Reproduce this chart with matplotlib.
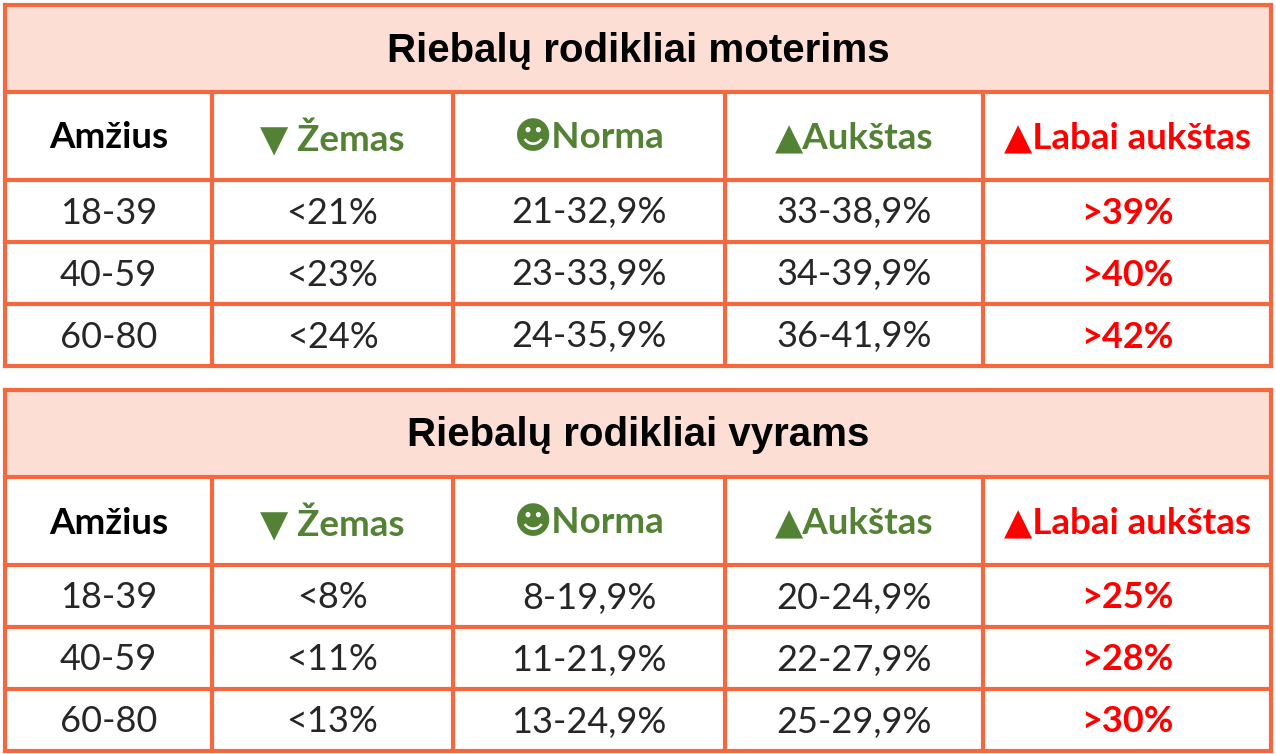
import matplotlib
matplotlib.use("Agg")
import matplotlib.pyplot as plt
from matplotlib.patches import Rectangle

titles = ["Riebalų rodikliai moterims", "Riebalų rodikliai vyrams"]
headers = ["Amžius", "▼ Žemas", "☻Norma", "▲Aukštas", "▲Labai aukštas"]
ages = ["18-39", "40-59", "60-80"]
women_low = ["<21%", "<23%", "<24%"]
women_norm = ["21-32,9%", "23-33,9%", "24-35,9%"]
women_high = ["33-38,9%", "34-39,9%", "36-41,9%"]
women_vhigh = [">39%", ">40%", ">42%"]
men_low = ["<8%", "<11%", "<13%"]
men_norm = ["8-19,9%", "11-21,9%", "13-24,9%"]
men_high = ["20-24,9%", "22-27,9%", "25-29,9%"]
men_vhigh = [">25%", ">28%", ">30%"]

BORDER = "#F4683F"
FILL = "#FDDED5"
GREEN = "#548235"
RED = "#FF0000"
DARK = "#262626"

fig = plt.figure(figsize=(12.76, 7.54), dpi=100)
ax = fig.add_axes([0, 0, 1, 1])
ax.set_xlim(0, 1276); ax.set_ylim(754, 0); ax.axis("off")

cols = [5, 212, 453, 725, 983, 1271]
FB = ["Lato", "DejaVu Sans"]
hcolors = ["black", GREEN, GREEN, GREEN, RED]

def table(top, title, data):
    ys = [top, top + 87, top + 175, top + 237, top + 299, top + 361]
    ax.add_patch(Rectangle((cols[0], ys[0]), cols[-1] - cols[0], ys[1] - ys[0], facecolor=FILL, edgecolor="none"))
    ax.text((cols[0] + cols[-1]) / 2, (ys[0] + ys[1]) / 2 + 2, title, ha="center", va="center",
            fontsize=29, fontweight="bold", family=["Liberation Sans"], color="black")
    for y in ys:
        ax.plot([cols[0], cols[-1]], [y, y], color=BORDER, lw=3, solid_capstyle="projecting")
    for x in cols:
        y0 = ys[0] if x in (cols[0], cols[-1]) else ys[1]
        ax.plot([x, x], [y0, ys[-1]], color=BORDER, lw=3, solid_capstyle="projecting")
    for j, h in enumerate(headers):
        ax.text((cols[j] + cols[j + 1]) / 2, (ys[1] + ys[2]) / 2 + 2, h, ha="center", va="center",
                fontsize=26.5, fontweight="bold", family=FB, color=hcolors[j])
    for i in range(3):
        yc = (ys[2 + i] + ys[3 + i]) / 2 + 2
        for j, col in enumerate(data):
            red = j == 4
            ax.text((cols[j] + cols[j + 1]) / 2, yc, col[i], ha="center", va="center",
                    fontsize=26, fontweight="bold" if red else "normal", family=FB,
                    color=RED if red else DARK)

table(5, titles[0], [ages, women_low, women_norm, women_high, women_vhigh])
table(390, titles[1], [ages, men_low, men_norm, men_high, men_vhigh])

fig.savefig("out.png", dpi=100)
